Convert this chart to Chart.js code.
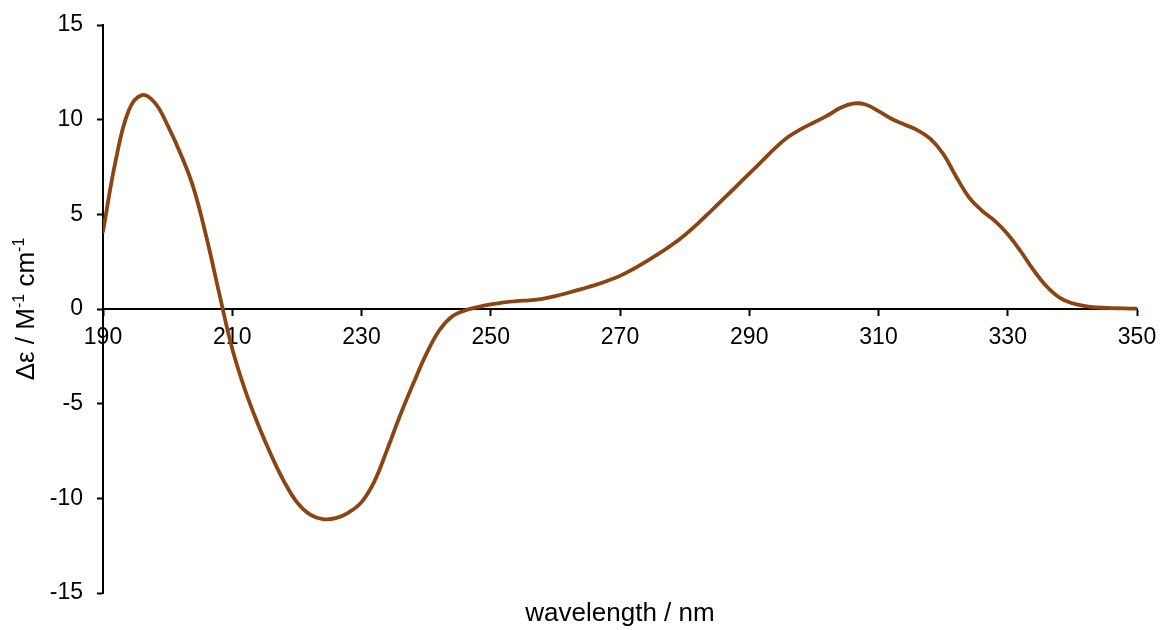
<!DOCTYPE html>
<html>
<head>
<meta charset="utf-8">
<title>CD spectrum</title>
<script src="https://cdn.jsdelivr.net/npm/chart.js@4/dist/chart.umd.min.js"></script>
<style>
  html, body { margin: 0; padding: 0; background: #ffffff; }
  #c { display: block; }
</style>
</head>
<body>
<canvas id="c" width="1161" height="630"></canvas>
<script>
// Wavelength grid (nm)
const wavelength = [
  190, 192, 194, 196, 198, 200, 202, 204, 206, 208,
  210, 212, 214, 216, 218, 220, 222, 224, 226, 228,
  230, 232, 234, 236, 238, 240, 242, 244, 246, 248,
  250, 252, 254, 256, 258, 260, 262, 264, 266, 268,
  270, 272, 274, 276, 278, 280, 282, 284, 286, 288,
  290, 292, 294, 296, 298, 300, 302, 304, 306, 308,
  310, 312, 314, 316, 318, 320, 322, 324, 326, 328,
  330, 332, 334, 336, 338, 340, 342, 344, 346, 348,
  350
];

// Molar circular dichroism, Δε (M⁻¹ cm⁻¹)
const deltaEpsilon = [
  4.1, 7.9, 10.5, 11.3, 10.9, 9.7, 8.2, 6.4, 3.8, 0.8,
  -2.1, -4.3, -6.1, -7.7, -9.1, -10.2, -10.85, -11.1, -11.05, -10.75,
  -10.2, -9.1, -7.4, -5.6, -3.95, -2.4, -1.15, -0.4, -0.08, 0.1,
  0.24, 0.35, 0.42, 0.46, 0.54, 0.68, 0.86, 1.05, 1.25, 1.48,
  1.75, 2.1, 2.5, 2.92, 3.38, 3.9, 4.5, 5.15, 5.82, 6.48,
  7.15, 7.82, 8.5, 9.08, 9.5, 9.85, 10.2, 10.6, 10.85, 10.8,
  10.45, 10.05, 9.75, 9.45, 9.0, 8.2, 7.0, 5.9, 5.2, 4.65,
  3.95, 3.05, 2.05, 1.2, 0.6, 0.3, 0.15, 0.08, 0.05, 0.03,
  0.02
];

// Axis ranges and tick steps
const xRange = [190, 350];
const xStep = 20;
const yRange = [-15, 15];
const yStep = 5;

const xTitle = 'wavelength / nm';
const yTitleParts = [
  { text: 'Δε / M', sup: false },
  { text: '-1', sup: true },
  { text: ' cm', sup: false },
  { text: '-1', sup: true }
];

const FONT = '"Liberation Sans", Arial, Helvetica, sans-serif';
const AXIS_COLOR = '#000000';
const LINE_COLOR = '#8b4513';

const points = wavelength.map((w, i) => ({ x: w, y: deltaEpsilon[i] }));

// Axis titles: x title centred under the plot, y title rotated with superscripts
const axisTitles = {
  id: 'axisTitles',
  afterDraw(chart) {
    const ctx = chart.ctx;
    const area = chart.chartArea;
    ctx.save();
    ctx.fillStyle = '#000000';
    ctx.textBaseline = 'alphabetic';

    // x title
    ctx.font = '26px ' + FONT;
    ctx.textAlign = 'center';
    ctx.fillText(xTitle, (area.left + area.right) / 2, 621);

    // y title
    const big = '26px ' + FONT;
    const small = '16px ' + FONT;
    let total = 0;
    yTitleParts.forEach(p => {
      ctx.font = p.sup ? small : big;
      total += ctx.measureText(p.text).width;
    });
    ctx.translate(34, (area.top + area.bottom) / 2);
    ctx.rotate(-Math.PI / 2);
    ctx.textAlign = 'left';
    let x = -total / 2;
    yTitleParts.forEach(p => {
      ctx.font = p.sup ? small : big;
      ctx.fillText(p.text, x, p.sup ? -10 : 0);
      x += ctx.measureText(p.text).width;
    });
    ctx.restore();
  }
};

new Chart(document.getElementById('c'), {
  type: 'line',
  data: {
    datasets: [{
      data: points,
      borderColor: LINE_COLOR,
      backgroundColor: LINE_COLOR,
      borderWidth: 3.8,
      pointRadius: 0,
      pointHoverRadius: 0,
      fill: false,
      tension: 0.4,
      borderCapStyle: 'round',
      borderJoinStyle: 'round'
    }]
  },
  options: {
    responsive: false,
    animation: false,
    devicePixelRatio: 1,
    layout: { padding: { left: 0, right: 24, top: 25, bottom: 37 } },
    plugins: {
      legend: { display: false },
      tooltip: { enabled: false },
      title: { display: false }
    },
    scales: {
      x: {
        type: 'linear',
        position: { y: 0 },
        min: xRange[0],
        max: xRange[1],
        afterFit(scale) {
          scale.paddingLeft = 0;
          scale.paddingRight = 0;
        },
        grid: {
          display: true,
          drawOnChartArea: false,
          drawTicks: true,
          tickLength: 6,
          tickWidth: 2,
          color: AXIS_COLOR
        },
        border: { display: true, color: AXIS_COLOR, width: 2 },
        ticks: {
          stepSize: xStep,
          color: '#000000',
          padding: 9,
          maxRotation: 0,
          autoSkip: false,
          font: { family: FONT, size: 23 }
        },
        title: { display: false }
      },
      y: {
        type: 'linear',
        position: 'left',
        min: yRange[0],
        max: yRange[1],
        afterFit(scale) {
          scale.width = 103;
          scale.paddingTop = 0;
          scale.paddingBottom = 0;
        },
        grid: {
          display: true,
          drawOnChartArea: false,
          drawTicks: true,
          tickLength: 6,
          tickWidth: 2,
          color: AXIS_COLOR
        },
        border: { display: true, color: AXIS_COLOR, width: 2 },
        ticks: {
          stepSize: yStep,
          color: '#000000',
          padding: 14,
          font: { family: FONT, size: 23 }
        },
        title: { display: false }
      }
    }
  },
  plugins: [axisTitles]
});
</script>
</body>
</html>
